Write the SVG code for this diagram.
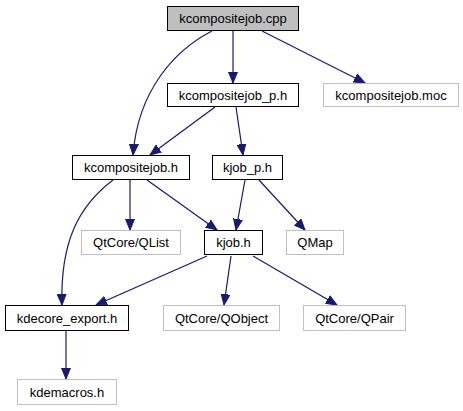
<svg xmlns="http://www.w3.org/2000/svg" width="463" height="411" viewBox="0 0 463 411">
<defs>
<style>
.n rect{fill:#fff;stroke:#000;stroke-width:1}
.g rect{fill:#fff;stroke:#bfbfbf;stroke-width:1}
.r rect{fill:#bfbfbf;stroke:#000}
text{font-family:"Liberation Sans",Arial,sans-serif;font-size:13px;fill:#000;text-anchor:middle}
.e path{fill:none;stroke:#191970;stroke-width:1.2;marker-end:url(#a)}
</style>
<marker id="a" markerUnits="userSpaceOnUse" markerWidth="12" markerHeight="10" viewBox="0 0 12 10" refX="11" refY="5" orient="auto">
<path d="M0,0.5 L11,5 L0,9.5 Z" fill="#191970" stroke="#191970"/>
</marker>
</defs>
<rect width="463" height="411" fill="#fff"/>
<g id="edges" class="e">
<path d="M212,31 C175,50 138,90 133,155"/>
<path d="M233,31 L233,83"/>
<path d="M262,31 L365,83"/>
<path d="M215,107 L150,155"/>
<path d="M236,107 L243,155"/>
<path d="M113,180 C80,205 60,240 62,305"/>
<path d="M130,180 L130,230"/>
<path d="M147,180 L217,230"/>
<path d="M245,180 L236,230"/>
<path d="M259,180 L305,230"/>
<path d="M207,256 L96,305"/>
<path d="M231,256 L224,305"/>
<path d="M253,256 L337,305"/>
<path d="M66,331 L66,379"/>
</g>
<g id="n1" class="r"><rect x="167.5" y="6.5" width="131" height="24"/><text x="233" y="23">kcompositejob.cpp</text></g>
<g id="n2" class="n"><rect x="167.5" y="83.5" width="131" height="23"/><text x="233" y="99.5">kcompositejob_p.h</text></g>
<g id="n3" class="g"><rect x="323.5" y="83.5" width="135" height="23"/><text x="391" y="99.5">kcompositejob.moc</text></g>
<g id="n4" class="n"><rect x="72.5" y="155.5" width="117" height="24"/><text x="131" y="172">kcompositejob.h</text></g>
<g id="n5" class="n"><rect x="212.5" y="155.5" width="70" height="24"/><text x="247.5" y="172">kjob_p.h</text></g>
<g id="n6" class="g"><rect x="81.5" y="230.5" width="99" height="24"/><text x="131" y="247">QtCore/QList</text></g>
<g id="n7" class="n"><rect x="204.5" y="230.5" width="58" height="24"/><text x="233.5" y="247">kjob.h</text></g>
<g id="n8" class="g"><rect x="286.5" y="230.5" width="57" height="24"/><text x="315" y="247">QMap</text></g>
<g id="n9" class="n"><rect x="5.5" y="305.5" width="123" height="25"/><text x="67" y="322.5">kdecore_export.h</text></g>
<g id="n10" class="g"><rect x="163.5" y="305.5" width="116" height="25"/><text x="221.5" y="322.5">QtCore/QObject</text></g>
<g id="n11" class="g"><rect x="303.5" y="305.5" width="102" height="25"/><text x="354.5" y="322.5">QtCore/QPair</text></g>
<g id="n12" class="g"><rect x="17.5" y="379.5" width="99" height="25"/><text x="67" y="396.5">kdemacros.h</text></g>
</svg>
